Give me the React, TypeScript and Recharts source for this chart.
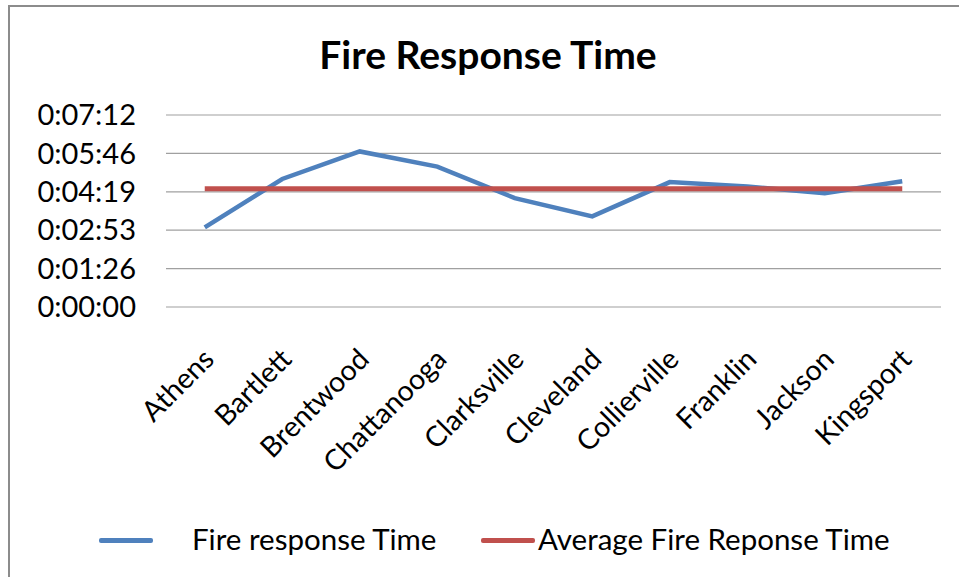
import React from 'react';
import { LineChart, Line, XAxis, YAxis, CartesianGrid } from 'recharts';

const categories = ['Athens', 'Bartlett', 'Brentwood', 'Chattanooga', 'Clarksville', 'Cleveland', 'Collierville', 'Franklin', 'Jackson', 'Kingsport'];
const responseSeconds = [179, 288, 350, 316, 245, 204, 281, 271, 256, 283];
const averageSeconds = [266, 266, 266, 266, 266, 266, 266, 266, 266, 266];
const yTicks = [0, 86.4, 172.8, 259.2, 345.6, 432];
const seriesNames = ['Fire response Time', 'Average Fire Reponse Time'];
const chartTitle = 'Fire Response Time';

const data = categories.map((c, i) => ({ name: c, resp: responseSeconds[i], avg: averageSeconds[i] }));

const FONT = 'Lato, "Open Sans", sans-serif';

const fmt = (v: number) => {
  const s = Math.round(v);
  const h = Math.floor(s / 3600);
  const m = Math.floor((s % 3600) / 60);
  const sec = s % 60;
  return `${h}:${String(m).padStart(2, '0')}:${String(sec).padStart(2, '0')}`;
};

const XTick = (props: any) => {
  const { x, payload } = props;
  const ax = x + 11;
  const ay = 361;
  return (
    <text x={ax} y={ay} textAnchor="end" fontFamily={FONT} fontSize={28.5} fill="#000" transform={`rotate(-45, ${ax}, ${ay})`}>
      {payload.value}
    </text>
  );
};

export default function App() {
  return (
    <div style={{ position: 'absolute', left: 0, top: 0, width: 959, height: 577, background: '#fff', overflow: 'hidden' }}>
      <div style={{ position: 'absolute', left: 8, top: 5, width: 960, height: 600, borderTop: '2px solid #8c8c8c', borderLeft: '2px solid #8c8c8c' }} />
      <div style={{ position: 'absolute', left: 188, width: 600, top: 31, textAlign: 'center', fontFamily: FONT, fontWeight: 700, fontSize: 39, color: '#000', lineHeight: '46px' }}>
        {chartTitle}
      </div>
      <div style={{ position: 'absolute', left: 0, top: 0 }}>
        <LineChart width={959} height={577} data={data} margin={{ top: 115, right: 18, left: 0, bottom: 0 }}>
          <CartesianGrid vertical={false} stroke="#a0a0a0" strokeWidth={1.2} />
          <XAxis
            dataKey="name"
            height={270}
            axisLine={false}
            tickLine={false}
            interval={0}
            padding={{ left: 38.75, right: 38.75 }}
            tick={<XTick />}
          />
          <YAxis
            width={166}
            domain={[0, 432]}
            ticks={yTicks}
            tickFormatter={fmt}
            axisLine={false}
            tickLine={false}
            tickSize={0}
            tickMargin={30}
            tick={{ fontFamily: FONT, fontSize: 29, fill: '#000' }}
            interval={0}
          />
          <Line type="linear" dataKey="resp" name={seriesNames[0]} stroke="#4F81BD" strokeWidth={4.5} dot={false} isAnimationActive={false} />
          <Line type="linear" dataKey="avg" name={seriesNames[1]} stroke="#C0504D" strokeWidth={5} dot={false} isAnimationActive={false} />
        </LineChart>
      </div>
      <div style={{ position: 'absolute', left: 99, top: 538, width: 54, height: 4.5, background: '#4F81BD', borderRadius: 2 }} />
      <div style={{ position: 'absolute', left: 192, top: 522, fontFamily: FONT, fontSize: 29.5, lineHeight: '34px', color: '#000', whiteSpace: 'nowrap' }}>
        {seriesNames[0]}
      </div>
      <div style={{ position: 'absolute', left: 481, top: 538, width: 54, height: 5, background: '#C0504D', borderRadius: 2 }} />
      <div style={{ position: 'absolute', left: 538, top: 522, fontFamily: FONT, fontSize: 29.5, lineHeight: '34px', color: '#000', whiteSpace: 'nowrap' }}>
        {seriesNames[1]}
      </div>
    </div>
  );
}
